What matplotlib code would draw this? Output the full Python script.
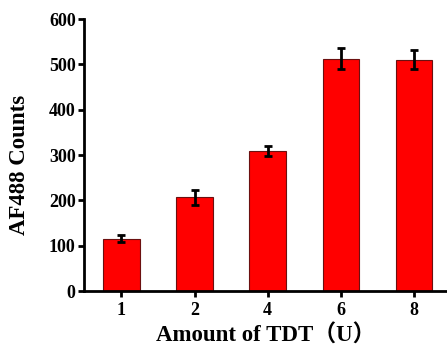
import matplotlib
matplotlib.use("Agg")
from matplotlib import pyplot as plt

units = ["1", "2", "4", "6", "8"]
counts = [116, 207, 310, 513, 510]
errors = [7, 16, 11, 24, 21]

plt.rcParams['font.family'] = ['Liberation Serif', 'Noto Sans CJK SC']
plt.rcParams['font.weight'] = 'bold'

fig = plt.figure(figsize=(4.47, 3.47), dpi=100)
ax = fig.add_axes([0.188, 0.161, 0.812, 0.784])

pos = list(range(len(units)))
ax.bar(pos, counts, width=0.5, color='#ff0000', edgecolor='#6b1010', linewidth=0.8,
       yerr=errors, error_kw=dict(ecolor='black', elinewidth=2, capsize=3, capthick=2))

ax.set_xlim(-0.51, 4.45)
ax.set_ylim(0, 600)
ax.set_xticks(pos)
ax.set_xticklabels(units)
ax.set_yticks(range(0, 601, 100))

for side in ['top', 'right']:
    ax.spines[side].set_visible(False)
for side in ['left', 'bottom']:
    ax.spines[side].set_linewidth(2)

ax.tick_params(axis='both', direction='out', length=4, width=2, labelsize=13, pad=2)
ax.tick_params(axis='x', pad=4)
for lab in ax.get_xticklabels() + ax.get_yticklabels():
    lab.set_fontweight('bold')

ax.set_xlabel('Amount of TDT（U）', fontsize=16.5, fontweight='bold', labelpad=4)
ax.set_ylabel('AF488 Counts', fontsize=16.5, fontweight='bold', va='center')
ax.yaxis.set_label_coords(-0.178, 0.463)

fig.savefig('out.png', dpi=100)
